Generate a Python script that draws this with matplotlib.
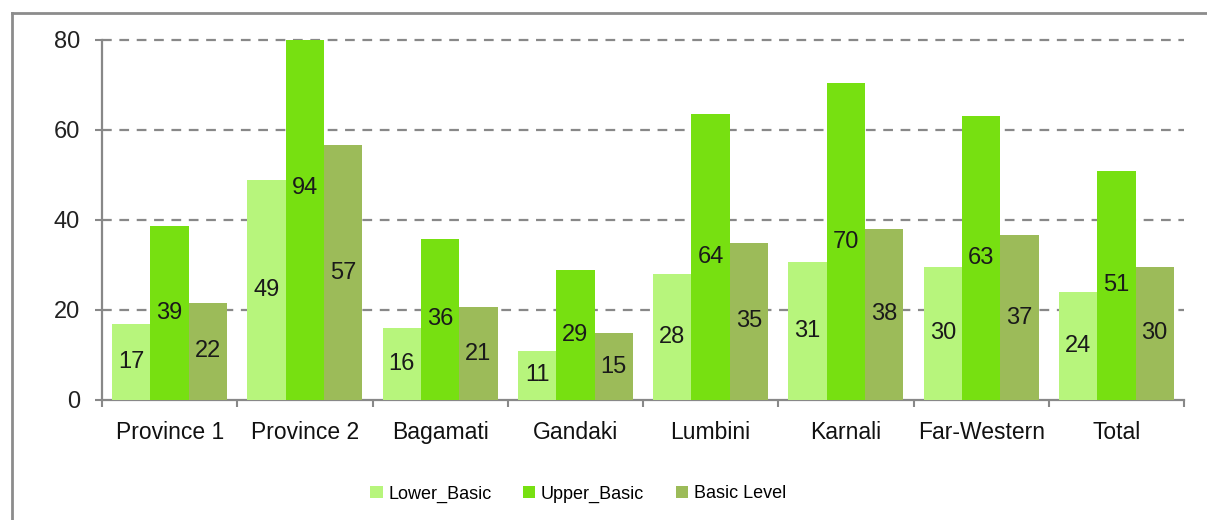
import matplotlib
matplotlib.use("Agg")
import matplotlib.pyplot as plt
import numpy as np
from matplotlib.lines import Line2D
from matplotlib.patches import Patch

categories = ["Province 1", "Province 2", "Bagamati", "Gandaki", "Lumbini", "Karnali", "Far-Western", "Total"]
lower_basic = [17.0, 48.9, 16.1, 11.0, 28.1, 30.7, 29.6, 24.1]
upper_basic = [38.6, 94.0, 35.8, 29.0, 63.6, 70.4, 63.1, 50.9]
basic_level = [21.6, 56.6, 20.6, 14.8, 35.0, 38.1, 36.6, 29.6]
series_names = ["Lower_Basic", "Upper_Basic", "Basic Level"]
colors = ["#B7F57C", "#77E011", "#9CBB59"]
yticks = [0, 20, 40, 60, 80]

plt.rcParams['font.family'] = ['Liberation Sans', 'DejaVu Sans']
plt.rcParams['lines.scale_dashes'] = False

fig = plt.figure(figsize=(12.07, 5.2), dpi=100)
ax = fig.add_axes([102/1207, 1-400/520, (1184-102)/1207, 360/520])

x = np.arange(len(categories))
w = 0.283
gray = "#888888"
for i, (vals, c) in enumerate(zip([lower_basic, upper_basic, basic_level], colors)):
    pos = x + (i - 1) * w
    ax.bar(pos, vals, width=w, color=c, zorder=3)
    for px, v in zip(pos, vals):
        ax.text(px, v / 2, f"{round(v)}", ha="center", va="center", fontsize=17, color="#1a1a1a", zorder=4)

ax.set_ylim(0, 80)
ax.set_xlim(-0.5, len(categories) - 0.5)
ax.set_yticks(yticks)
ax.set_yticklabels([str(t) for t in yticks], fontsize=17, color="#222222")
ax.set_xticks(x)
ax.set_xticklabels(categories, fontsize=16.5, color="#111111")
ax.set_xticks(np.arange(len(categories) + 1) - 0.5, minor=True)
ax.tick_params(axis="x", which="major", length=0, pad=15)
ax.tick_params(axis="x", which="minor", length=5, width=1.5, color=gray)
ax.tick_params(axis="y", length=5, width=1.5, color=gray, pad=11)

for t in yticks[1:]:
    ax.axhline(t, color=gray, lw=1.6, dashes=(7, 5.5), zorder=1, clip_on=False)

for s in ["top", "right"]:
    ax.spines[s].set_visible(False)
for s in ["left", "bottom"]:
    ax.spines[s].set_color(gray)
    ax.spines[s].set_linewidth(1.6)

# outer frame (left and top)
fig.add_artist(Line2D([11.5/1207, 11.5/1207], [0, 1-13/520], color="#8c8c8c", lw=2, transform=fig.transFigure))
fig.add_artist(Line2D([11.5/1207, 1], [1-13/520, 1-13/520], color="#8c8c8c", lw=2, transform=fig.transFigure))

handles = [Patch(facecolor=c, edgecolor="none") for c in colors]
fig.legend(handles, series_names, loc="center", bbox_to_anchor=(578/1207, 1-494/520), ncol=3,
           frameon=False, fontsize=13, handlelength=0.7, handleheight=0.7, handletextpad=0.3,
           columnspacing=1.75)

fig.savefig("out.png", dpi=100)
